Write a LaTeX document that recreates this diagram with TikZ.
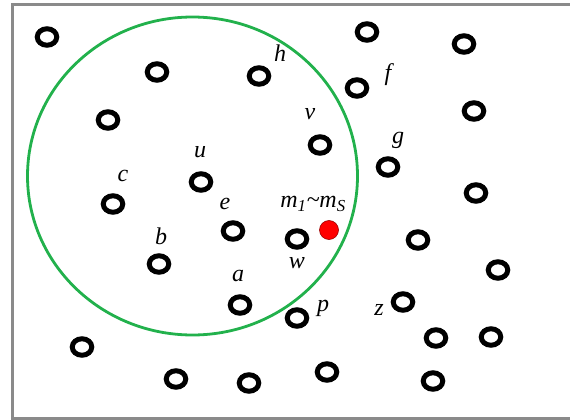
\documentclass[tikz,border=0pt]{standalone}
\usepackage{fontspec}
\setmainfont{Liberation Serif}
\usetikzlibrary{shapes.geometric}
\definecolor{regiongreen}{HTML}{22B14C}
\definecolor{framegray}{HTML}{8A8A8A}
\begin{document}
\begin{tikzpicture}[x=1pt,y=-1pt,
  ring/.style={draw=black, ellipse, line width=5pt, minimum width=19.5pt, minimum height=16.5pt, inner sep=0pt},
  lbl/.style={font=\fontsize{24}{26}\selectfont\itshape, inner sep=0pt},
  region/.style={draw=regiongreen, ellipse, line width=2.8pt, minimum width=330pt, minimum height=318pt, inner sep=0pt},
  frame/.style={draw=framegray, line width=3pt},
  reddot/.style={circle, fill=red, draw=red!60!black, line width=0.6pt, minimum size=19pt, inner sep=0pt}]
\useasboundingbox (0,0) rectangle (570,420);
\draw[frame] (600,4.5) -- (12.5,4.5) -- (12.5,418.5) -- (600,418.5);
\node[region] (zone) at (192.5,176) {};
% rings
\node[ring] (r1) at (47,37) {};
\node[ring] (r2) at (157,72) {};
\node[ring] (h) at (259,76) {};
\node[ring] (r4) at (367,32) {};
\node[ring] (r5) at (464,44) {};
\node[ring] (f) at (357,88) {};
\node[ring] (r7) at (108,120) {};
\node[ring] (r8) at (474,111) {};
\node[ring] (v) at (320,145) {};
\node[ring] (g) at (388,167) {};
\node[ring] (u) at (201,182) {};
\node[ring] (c) at (113,204) {};
\node[ring] (r13) at (476,193) {};
\node[ring] (e) at (233,231) {};
\node[ring] (w) at (297,239) {};
\node[ring] (r16) at (418,240) {};
\node[ring] (b) at (159,264) {};
\node[ring] (r18) at (498,270) {};
\node[ring] (a) at (240,305) {};
\node[ring] (p) at (297,318) {};
\node[ring] (z) at (403,302) {};
\node[ring] (r22) at (436,338) {};
\node[ring] (r23) at (491,337) {};
\node[ring] (r24) at (82,347) {};
\node[ring] (r25) at (176,379) {};
\node[ring] (r26) at (249,383) {};
\node[ring] (r27) at (327,372) {};
\node[ring] (r28) at (433,381) {};
\node[reddot] (m) at (329,230) {};
% labels
\node[lbl] (lh) at (280,53) {h};
\node[lbl] (lf) at (388,75) {f};
\node[lbl] (lv) at (310,114) {v};
\node[lbl] (lg) at (398,140) {g};
\node[lbl] (lu) at (200,152) {u};
\node[lbl] (lc) at (123,176) {c};
\node[lbl] (le) at (225,204) {e};
\node[lbl] (lm) at (313,204) {m\textsubscript{1}\textasciitilde m\textsubscript{S}};
\node[lbl] (lb) at (161,236) {b};
\node[lbl] (lw) at (297,263) {w};
\node[lbl] (la) at (238,276) {a};
\node[lbl] (lp) at (323,308) {p};
\node[lbl] (lz) at (379,310) {z};
\end{tikzpicture}
\end{document}
